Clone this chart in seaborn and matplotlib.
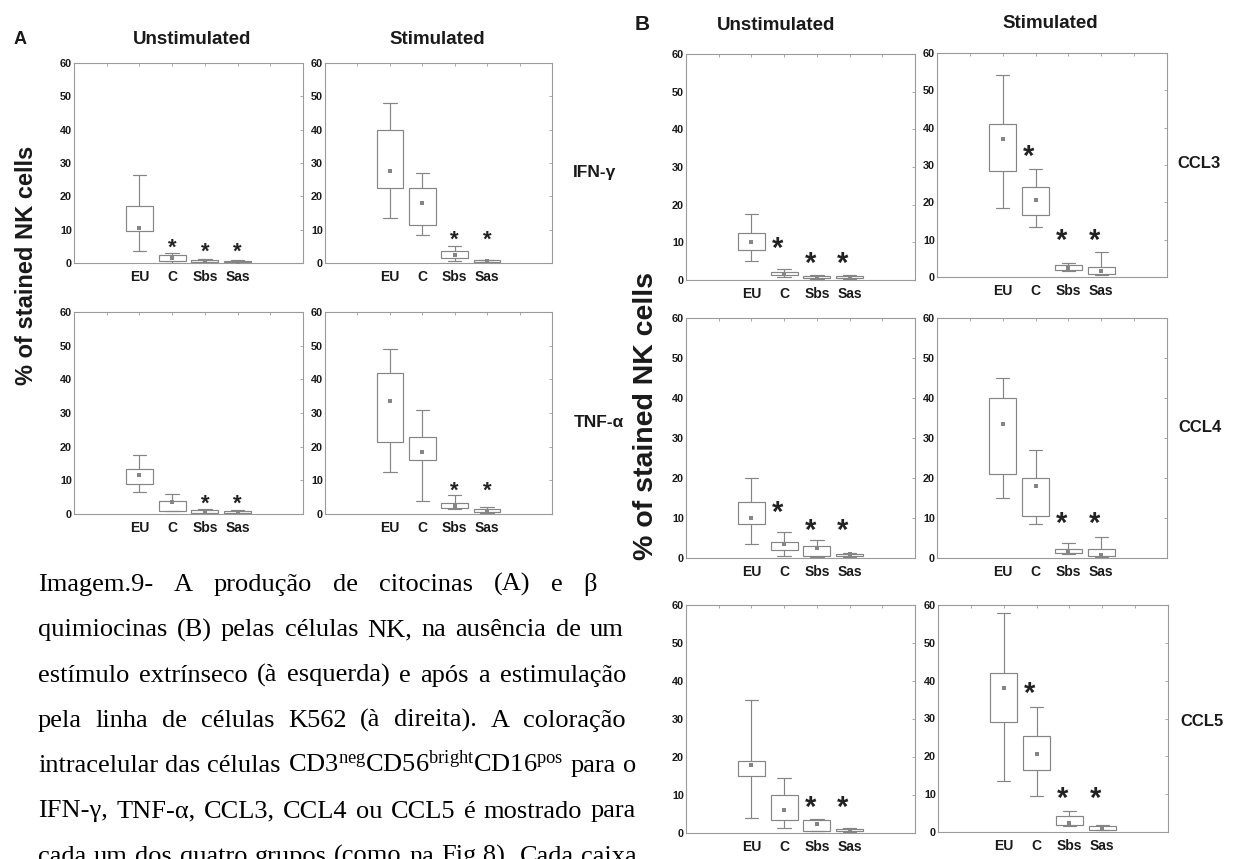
import numpy as np
import pandas as pd
import matplotlib
matplotlib.use("Agg")
import matplotlib.pyplot as plt
import matplotlib.transforms as mtransforms
from matplotlib import font_manager as fm
import seaborn as sns

# ---------------- data ----------------
groups = ["EU", "C", "Sbs", "Sas"]

# five-number summaries per group: [min, q1, median, q3, max]  (% of stained NK cells)
ifng_unstim = [[3.5, 9.5, 10.5, 17.0, 26.5], [0.0, 0.5, 1.5, 2.5, 3.0],
               [0.0, 0.3, 0.5, 0.8, 1.2], [0.0, 0.2, 0.4, 0.7, 1.0]]
ifng_stim = [[13.5, 22.5, 27.5, 40.0, 48.0], [8.5, 11.5, 18.0, 22.5, 27.0],
             [0.5, 1.5, 2.5, 3.5, 5.0], [0.0, 0.3, 0.5, 0.8, 1.0]]
tnfa_unstim = [[6.5, 9.0, 11.5, 13.5, 17.5], [0.8, 1.0, 3.5, 4.0, 6.0],
               [0.0, 0.3, 0.8, 1.2, 1.5], [0.0, 0.2, 0.5, 0.9, 1.2]]
tnfa_stim = [[12.5, 21.5, 33.5, 42.0, 49.0], [4.0, 16.0, 18.5, 23.0, 31.0],
             [1.5, 1.7, 2.5, 3.2, 5.5], [0.3, 0.5, 1.0, 1.5, 2.0]]

ccl3_unstim = [[5.0, 8.0, 10.0, 12.5, 17.5], [0.8, 1.2, 1.6, 2.2, 2.8],
               [0.2, 0.5, 0.8, 1.0, 1.2], [0.2, 0.5, 0.8, 1.0, 1.2]]
ccl4_unstim = [[3.5, 8.5, 10.0, 14.0, 20.0], [0.5, 2.0, 3.5, 4.0, 6.5],
               [0.3, 0.5, 2.5, 3.0, 4.5], [0.3, 0.6, 0.9, 1.1, 1.3]]
ccl5_unstim = [[4.0, 15.0, 18.0, 19.0, 35.0], [1.3, 3.5, 6.0, 10.0, 14.5],
               [0.5, 0.6, 2.4, 3.3, 3.7], [0.2, 0.5, 0.8, 1.0, 1.2]]
ccl3_stim = [[18.5, 28.5, 37.0, 41.0, 54.0], [13.5, 16.5, 20.5, 24.0, 29.0],
             [1.5, 1.8, 2.5, 3.1, 3.7], [0.5, 0.9, 1.5, 2.8, 6.8]]
ccl4_stim = [[15.0, 21.0, 33.5, 40.0, 45.0], [8.5, 10.5, 18.0, 20.0, 27.0],
             [1.0, 1.2, 1.7, 2.3, 3.7], [0.3, 0.5, 0.8, 2.3, 5.3]]
ccl5_stim = [[13.5, 29.0, 38.0, 42.0, 58.0], [9.5, 16.5, 20.5, 25.5, 33.0],
             [1.5, 1.8, 2.5, 4.3, 5.5], [0.5, 0.6, 1.0, 1.5, 1.8]]

# significance asterisks (height per group, None = no asterisk)
stars_ifng_unstim = [None, 6.6, 5.2, 5.2]
stars_ifng_stim = [None, None, 9.0, 9.0]
stars_tnfa_unstim = [None, None, 5.0, 5.0]
stars_tnfa_stim = [None, None, 8.8, 8.8]
stars_ccl3_unstim = [None, 10.4, 6.4, 6.4]
stars_ccl4_unstim = [None, 13.3, 8.9, 8.9]
stars_ccl5_unstim = [None, None, 8.8, 8.8]
stars_ccl3_stim = [None, 34.3, 11.8, 11.8]
stars_ccl4_stim = [None, None, 10.5, 10.5]
stars_ccl5_stim = [None, 38.6, 11.0, 11.0]

y_ticks = [0, 10, 20, 30, 40, 50, 60]

caption_lines = [
    "Imagem.9- A produção de citocinas (A) e β",
    "quimiocinas (B) pelas células NK, na ausência de um",
    "estímulo extrínseco (à esquerda) e após a estimulação",
    "pela linha de células K562 (à direita). A coloração",
    r"intracelular das células CD3$^{\mathrm{neg}}$CD56$^{\mathrm{bright}}$CD16$^{\mathrm{pos}}$ para o",
    "IFN-γ, TNF-α, CCL3, CCL4 ou CCL5 é mostrado para",
    "cada um dos quatro grupos (como na Fig.8). Cada caixa",
]

# ---------------- style ----------------
sns.set_style("white")
plt.rcParams["font.family"] = ["Liberation Sans", "DejaVu Sans"]
plt.rcParams["mathtext.fontset"] = "custom"
plt.rcParams["mathtext.rm"] = "Liberation Serif"
plt.rcParams["mathtext.it"] = "Liberation Serif:italic"
plt.rcParams["mathtext.bf"] = "Liberation Serif:bold"

installed = {f.name for f in fm.fontManager.ttflist}
TICKFONT = "Liberation Sans Narrow" if "Liberation Sans Narrow" in installed else "Liberation Sans"

BOX = "#858585"
SPINE = "#9a9a9a"
TXT = "#1a1a1a"

W, H = 1235, 859
fig = plt.figure(figsize=(W / 100, H / 100), dpi=100)
fig.patch.set_facecolor("white")


def add_ax(x0, y0, x1, y1):
    return fig.add_axes([x0 / W, 1 - y1 / H, (x1 - x0) / W, (y1 - y0) / H])


def draw_panel(ax, summary, stars, star_dx, star_fs):
    df = pd.DataFrame([(g, v) for g, vals in zip(groups, summary) for v in vals],
                      columns=["group", "value"])
    sns.boxplot(data=df, x="group", y="value", order=groups, whis=(0, 100),
                width=0.82, color="white", linecolor=BOX, linewidth=0.85,
                medianprops=dict(linewidth=0), ax=ax)
    med = df.groupby("group", sort=False)["value"].median().reindex(groups).reset_index()
    sns.stripplot(data=med, x="group", y="value", order=groups, jitter=False,
                  marker="s", size=2.4, color=BOX, linewidth=0, ax=ax, zorder=5)
    ax.set_xlim(-2, 5)
    ax.set_ylim(0, 60)
    ax.set_xlabel("")
    ax.set_ylabel("")
    ax.set_yticks(y_ticks)
    ax.set_yticklabels([str(t) for t in y_ticks], fontsize=7.8, fontweight="bold",
                       color=TXT, family=TICKFONT)
    ax.set_xticks(range(len(groups)))
    ax.set_xticklabels(groups, fontsize=10, fontweight="bold", color=TXT, family=TICKFONT)
    ax.set_xticks([-1, 4], minor=True)
    ax.tick_params(axis="both", which="both", direction="in", length=2.5, width=0.6,
                   color=SPINE, top=True, right=True)
    ax.tick_params(axis="y", pad=1.5)
    ax.tick_params(axis="x", pad=5)
    for s in ax.spines.values():
        s.set_color(SPINE)
        s.set_linewidth(0.8)
    off = mtransforms.offset_copy(ax.transData, fig=fig, y=-0.56 * star_fs, units="points")
    for i, h in enumerate(stars):
        if h is not None:
            ax.text(i + star_dx, h, "*", transform=off, ha="center", va="baseline",
                    fontsize=star_fs, fontweight="bold", color="#222222")


# ---------------- panel A ----------------
panelsA = [
    ((74, 63, 303, 263), ifng_unstim, stars_ifng_unstim),
    ((325, 63, 552, 263), ifng_stim, stars_ifng_stim),
    ((74, 312, 303, 514), tnfa_unstim, stars_tnfa_unstim),
    ((325, 312, 552, 514), tnfa_stim, stars_tnfa_stim),
]
for box, summ, st in panelsA:
    draw_panel(add_ax(*box), summ, st, 0.0, 16)

# ---------------- panel B ----------------
panelsB = [
    ((686, 54, 915, 280), ccl3_unstim, stars_ccl3_unstim),
    ((937, 53, 1167, 277), ccl3_stim, stars_ccl3_stim),
    ((686, 318, 915, 558), ccl4_unstim, stars_ccl4_unstim),
    ((937, 318, 1167, 558), ccl4_stim, stars_ccl4_stim),
    ((686, 605, 915, 833), ccl5_unstim, stars_ccl5_unstim),
    ((938, 605, 1168, 832), ccl5_stim, stars_ccl5_stim),
]
for box, summ, st in panelsB:
    draw_panel(add_ax(*box), summ, st, -0.2, 21)


def ftext(x, y, s, **kw):
    return fig.text(x / W, 1 - y / H, s, **kw)


# headings
ftext(20, 40, "A", fontsize=13, fontweight="bold", ha="center", va="center", color=TXT)
ftext(192, 40, "Unstimulated", fontsize=13.5, fontweight="bold", ha="center", va="center", color=TXT)
ftext(437, 40, "Stimulated", fontsize=13.5, fontweight="bold", ha="center", va="center", color=TXT)
ftext(642, 25, "B", fontsize=15, fontweight="bold", ha="center", va="center", color=TXT)
ftext(776, 25, "Unstimulated", fontsize=13.5, fontweight="bold", ha="center", va="center", color=TXT)
ftext(1050, 23, "Stimulated", fontsize=13.5, fontweight="bold", ha="center", va="center", color=TXT)

# row labels
ftext(594, 173, "IFN-γ", fontsize=12.5, fontweight="bold", ha="center", va="center", color=TXT)
ftext(599, 422, "TNF-α", fontsize=12.5, fontweight="bold", ha="center", va="center", color=TXT)
ftext(1199, 163, "CCL3", fontsize=12, fontweight="bold", ha="center", va="center", color=TXT)
ftext(1200, 428, "CCL4", fontsize=12, fontweight="bold", ha="center", va="center", color=TXT)
ftext(1202, 722, "CCL5", fontsize=12, fontweight="bold", ha="center", va="center", color=TXT)

# y labels
ftext(27, 265, "% of stained NK cells", fontsize=17, fontweight="bold", rotation=90,
      ha="center", va="center", color=TXT)
ftext(646, 416, "% of stained NK cells", fontsize=20.5, fontweight="bold", rotation=90,
      ha="center", va="center", color=TXT)

# ---------------- caption (justified; last line runs off the page as in the source) ----------------
renderer = fig.canvas.get_renderer()
x_left = 38
right_edges = [597, 624, 626, 626, 636, 636, 637]
for i, line in enumerate(caption_lines):
    words = line.split(" ")
    yb = 591 + i * 45.3
    texts = [ftext(0, yb, w, fontsize=19, family="Liberation Serif", va="baseline",
                   ha="left", color="black") for w in words]
    widths = [t.get_window_extent(renderer).width for t in texts]
    gap = (right_edges[i] - x_left - sum(widths)) / max(len(words) - 1, 1)
    x = x_left
    for t, wd in zip(texts, widths):
        t.set_x(x / W)
        x += wd + gap

fig.savefig("out.png", dpi=100, facecolor="white")
